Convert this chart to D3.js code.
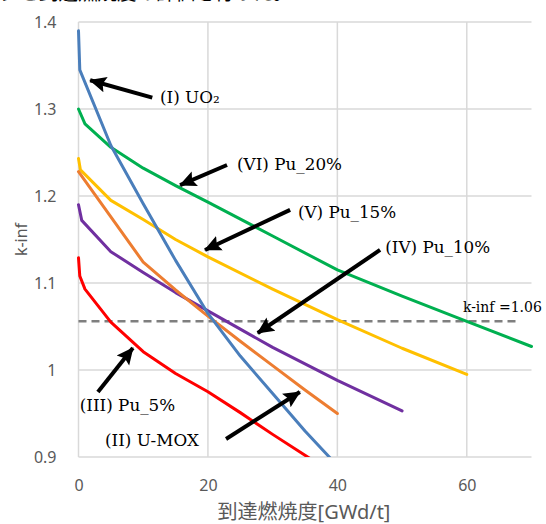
<!DOCTYPE html>
<html><head><meta charset="utf-8">
<script src="https://cdn.jsdelivr.net/npm/d3@7"></script>
<style>
html,body{margin:0;padding:0;background:#fff;}
svg{display:block;}
</style></head>
<body>
<svg id="chart" width="546" height="524"></svg>
<script>
// ---- data ----
const xTicks = [0, 20, 40, 60];
const yTicks = [0.9, 1.0, 1.1, 1.2, 1.3, 1.4];
const yTickLabels = ["0.9", "1", "1.1", "1.2", "1.3", "1.4"];
const xTitle = "到達燃焼度[GWd/t]";
const yTitle = "k-inf";
const topText = "ジと到達燃焼度の評価を行った。";

const burnUO2 = [0, 0.2, 5, 10, 15, 20, 25, 30, 35, 40];
const kUO2    = [1.390, 1.345, 1.258, 1.191, 1.126, 1.065, 1.016, 0.973, 0.930, 0.890];

const burnUMOX = [0, 5, 10, 15, 20, 25, 30, 35, 40];
const kUMOX    = [1.228, 1.176, 1.124, 1.092, 1.062, 1.033, 1.005, 0.977, 0.950];

const burnPu5 = [0, 0.2, 1, 5, 10, 15, 20, 25, 30, 35, 40];
const kPu5    = [1.129, 1.108, 1.093, 1.055, 1.021, 0.996, 0.975, 0.951, 0.926, 0.902, 0.878];

const burnPu10 = [0, 0.5, 5, 10, 15, 20, 25, 30, 40, 50];
const kPu10    = [1.190, 1.172, 1.136, 1.112, 1.089, 1.068, 1.047, 1.026, 0.988, 0.953];

const burnPu15 = [0, 0.3, 5, 10, 15, 20, 30, 40, 50, 60];
const kPu15    = [1.243, 1.230, 1.195, 1.173, 1.150, 1.130, 1.093, 1.058, 1.025, 0.995];

const burnPu20 = [0, 1, 5, 10, 15, 20, 30, 40, 50, 60, 70];
const kPu20    = [1.300, 1.283, 1.256, 1.232, 1.212, 1.193, 1.154, 1.115, 1.085, 1.056, 1.027];

const seriesNames  = ["UO2", "U-MOX", "Pu_5%", "Pu_10%", "Pu_15%", "Pu_20%"];
const seriesColors = ["#4a7ebb", "#ed7d31", "#ff0000", "#7030a0", "#ffc000", "#00b050"];

const limitK = 1.056;
const limitRange = [0, 67.6];
const limitLabel = "k-inf =1.06";

// annotations (data units): label, label position, arrow tail, arrow tip
const annLabels = ["(I) UO₂", "(II) U-MOX", "(III) Pu_5%", "(IV) Pu_10%", "(V) Pu_15%", "(VI) Pu_20%"];
const annLabelPos = [[12.6, 1.314], [4.1, 0.9195], [0.2, 0.9598], [47.4, 1.1414], [33.9, 1.1816], [24.5, 1.2368]];
const annTail = [[11.4, 1.313], [22.8, 0.9207], [3.0, 0.9747], [46.6, 1.138], [32.7, 1.184], [22.95, 1.2356]];
const annTip  = [[1.8, 1.333], [34.2, 0.9747], [8.4, 1.0253], [27.7, 1.0425], [19.55, 1.138], [15.7, 1.2126]];
const limitLabelPos = [59.4, 1.0724];

// ---- chart ----
const svg = d3.select("#chart");
const pL = 78.5, pR = 531.5, pT = 22, pB = 457;
const x = d3.scaleLinear().domain([0, 70]).range([pL, pR]);
const y = d3.scaleLinear().domain([0.9, 1.4]).range([pB, pT]);

const grid = "#d9d9d9";
const tickColor = "#595959";
const sansFont = "'Noto Sans','Noto Sans CJK JP',sans-serif";
const serifFont = "'DejaVu Serif',serif";

// top clipped text (cut off at the top edge, as in the reference)
svg.append("text").attr("x", 0).attr("y", 0)
  .attr("font-family", "'Noto Sans CJK JP',sans-serif").attr("font-size", 19.5)
  .attr("fill", "#000").text(topText);

// gridlines
svg.append("g").selectAll("line").data(yTicks).join("line")
  .attr("x1", pL).attr("x2", pR)
  .attr("y1", d => y(d)).attr("y2", d => y(d))
  .attr("stroke", grid).attr("stroke-width", 1.5);
svg.append("g").selectAll("line").data(xTicks).join("line")
  .attr("x1", d => x(d)).attr("x2", d => x(d))
  .attr("y1", pT).attr("y2", pB)
  .attr("stroke", grid).attr("stroke-width", 1.5);

// axes labels via d3 axes
const yAxis = d3.axisLeft(y).tickValues(yTicks).tickFormat((d, i) => yTickLabels[i]).tickSize(0).tickPadding(0);
const gy = svg.append("g").attr("transform", `translate(${pL - 22},0)`).call(yAxis);
gy.select(".domain").remove();
gy.selectAll("text").attr("fill", tickColor).attr("font-size", 16).attr("font-family", sansFont).attr("dy", "0.35em");

const xAxis = d3.axisBottom(x).tickValues(xTicks).tickSize(0).tickPadding(0);
const gx = svg.append("g").attr("transform", `translate(0,${pB + 23})`).call(xAxis);
gx.select(".domain").remove();
gx.selectAll("text").attr("fill", tickColor).attr("font-size", 16).attr("font-family", sansFont);

svg.append("text").attr("x", 304).attr("y", 519)
  .attr("text-anchor", "middle").attr("fill", tickColor)
  .attr("font-size", 20).attr("font-family", sansFont).text(xTitle);

svg.append("text").attr("transform", `translate(27,${(pT + pB) / 2}) rotate(-90)`)
  .attr("text-anchor", "middle").attr("fill", tickColor)
  .attr("font-size", 16).attr("font-family", sansFont).text(yTitle);

// clip
svg.append("clipPath").attr("id", "plotclip").append("rect")
  .attr("x", pL - 3).attr("y", pT - 3).attr("width", pR - pL + 6).attr("height", pB - pT + 3);

const allBurn = [burnUO2, burnUMOX, burnPu5, burnPu10, burnPu15, burnPu20];
const allK = [kUO2, kUMOX, kPu5, kPu10, kPu15, kPu20];
const line = d3.line().x(d => x(d[0])).y(d => y(d[1]));

// dashed limit line
svg.append("line")
  .attr("x1", x(limitRange[0])).attr("x2", x(limitRange[1]))
  .attr("y1", y(limitK)).attr("y2", y(limitK))
  .attr("stroke", "#7f7f7f").attr("stroke-width", 2.5).attr("stroke-dasharray", "8,5");

const gl = svg.append("g").attr("clip-path", "url(#plotclip)");
const order = [5, 4, 3, 1, 2, 0];
order.forEach(i => {
  const pts = allBurn[i].map((b, j) => [b, allK[i][j]]);
  gl.append("path").attr("d", line(pts)).attr("fill", "none")
    .attr("stroke", seriesColors[i]).attr("stroke-width", 3)
    .attr("stroke-linejoin", "round").attr("stroke-linecap", "round");
});

// arrows
const defs = svg.append("defs");
defs.append("marker").attr("id", "ah").attr("markerUnits", "userSpaceOnUse")
  .attr("markerWidth", 20).attr("markerHeight", 18).attr("refX", 16).attr("refY", 9)
  .attr("orient", "auto")
  .append("path").attr("d", "M0,1 L17,9 L0,17 L3,9 Z").attr("fill", "#000");

annTail.forEach((t, i) => {
  const tip = annTip[i];
  svg.append("line")
    .attr("x1", x(t[0])).attr("y1", y(t[1]))
    .attr("x2", x(tip[0])).attr("y2", y(tip[1]))
    .attr("stroke", "#000").attr("stroke-width", 4)
    .attr("marker-end", "url(#ah)");
});

annLabels.forEach((lab, i) => {
  svg.append("text").attr("x", x(annLabelPos[i][0])).attr("y", y(annLabelPos[i][1]))
    .attr("dy", "0.35em").attr("font-family", serifFont).attr("font-size", 16.8)
    .attr("fill", "#000").text(lab);
});

svg.append("text").attr("x", x(limitLabelPos[0])).attr("y", y(limitLabelPos[1]))
  .attr("dy", "0.35em").attr("font-family", serifFont).attr("font-size", 14)
  .attr("fill", "#000").text(limitLabel);
</script>
</body></html>
